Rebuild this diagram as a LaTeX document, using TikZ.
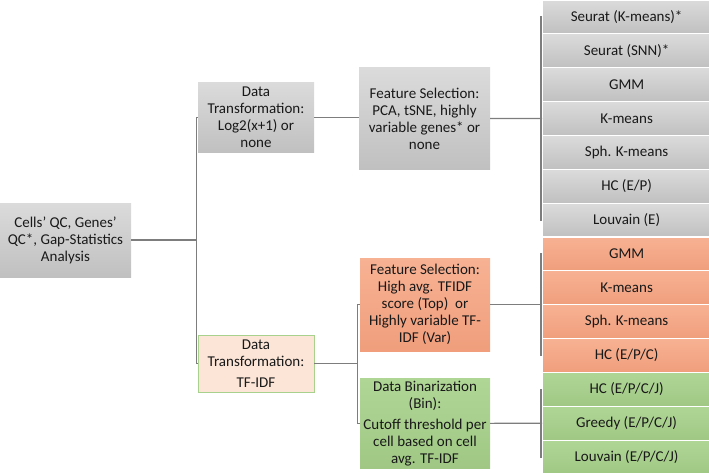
\documentclass[tikz,border=0pt]{standalone}
\usepackage{fontspec}
\setmainfont{Carlito}
\definecolor{gtop}{RGB}{219,219,219}
\definecolor{gbot}{RGB}{192,192,192}
\definecolor{otop}{RGB}{247,178,147}
\definecolor{obot}{RGB}{240,158,124}
\definecolor{ntop}{RGB}{176,214,150}
\definecolor{nbot}{RGB}{160,200,132}
\definecolor{peach}{RGB}{252,229,215}
\definecolor{pborder}{RGB}{169,209,142}
\definecolor{conn}{RGB}{125,125,125}
\definecolor{txt}{RGB}{25,25,25}
\begin{document}
\begin{tikzpicture}[x=1pt,y=-1pt,
  every node/.style={font=\fontsize{15}{17}\selectfont,text=txt,inner sep=0pt,align=center},
  greybox/.style={top color=gtop,bottom color=gbot,draw=none},
  orangebox/.style={top color=otop,bottom color=obot,draw=none},
  greenbox/.style={top color=ntop,bottom color=nbot,draw=none},
  cell/.style={minimum width=168pt,minimum height=33.86pt,draw=white,line width=1.2pt,anchor=west},
  link/.style={draw=conn,line width=1.1pt}]
\useasboundingbox (0,0) rectangle (709,474);
% level 0
\node[greybox,minimum width=131pt,minimum height=74pt] (root) at (65.5,240) {Cells’ QC, Genes’\\QC*, Gap-Statistics\\Analysis};
% level 1
\node[greybox,minimum width=116pt,minimum height=70pt] (dt1) at (256,117.5) {Data\\Transformation:\\Log2(x+1) or\\none};
\node[fill=peach,draw=pborder,line width=0.8pt,minimum width=116pt,minimum height=57pt] (dt2) at (256,363.5) {Data\\Transformation:\\[4pt]TF-IDF};
% level 2
\node[greybox,minimum width=131pt,minimum height=102pt] (fs1) at (424.5,118.5) {Feature Selection:\\PCA, tSNE, highly\\variable genes* or\\none};
\node[orangebox,minimum width=130pt,minimum height=93pt] (fs2) at (425,304.7) {Feature Selection:\\High avg. TFIDF\\score (Top)\ \ or\\Highly variable TF-\\IDF (Var)};
\node[greenbox,minimum width=130pt,minimum height=90pt] (bin) at (425,423.3) {Data Binarization\\(Bin):\\[4pt]Cutoff threshold per\\cell based on cell\\avg. TF-IDF};
% level 3 cells
\foreach \t [count=\i from 0] in {Seurat (K-means)*,Seurat (SNN)*,GMM,K-means,Sph. K-means,HC (E/P),Louvain (E)}
  \node[cell,greybox,draw=white] (g\i) at (542,{(\i+0.5)*33.857}) {\t};
\foreach \t [count=\i from 7] in {GMM,K-means,Sph. K-means,HC (E/P/C)}
  \node[cell,orangebox,draw=white] (o\i) at (542,{(\i+0.5)*33.857}) {\t};
\foreach \t [count=\i from 11] in {HC (E/P/C/J),Greedy (E/P/C/J),Louvain (E/P/C/J)}
  \node[cell,greenbox,draw=white] (n\i) at (542,{(\i+0.5)*33.857}) {\t};
% connectors
\coordinate (v0) at (196.7,240);
\draw[link] (root.east) -- (v0);
\draw[link] (dt1.west) -- ++(-1.3,0) |- (dt2.west);
\draw[link] (dt1.east) -- (dt1.east -| fs1.west);
\coordinate (v1) at (358,363.5);
\draw[link] (dt2.east) -- (v1);
\draw[link] (fs2.west) -- ++(-2,0) |- (bin.west);
\draw[link] (fs1.east) -- (g3.west);
\draw[link] (g0.west) -- ++(-1,0) |- (g6.west);
\foreach \i in {1,2,4,5} \draw[link] (g\i.west) -- ++(-1,0);
\draw[link] (fs2.east) -- (fs2.east -| o7.west);
\draw[link] (o7.west) -- ++(-1,0) |- (o10.west);
\foreach \i in {8,9} \draw[link] (o\i.west) -- ++(-1,0);
\draw[link] (bin.east) -- (n12.west);
\draw[link] (n11.west) -- ++(-1,0) |- (n13.west);
\end{tikzpicture}
\end{document}
